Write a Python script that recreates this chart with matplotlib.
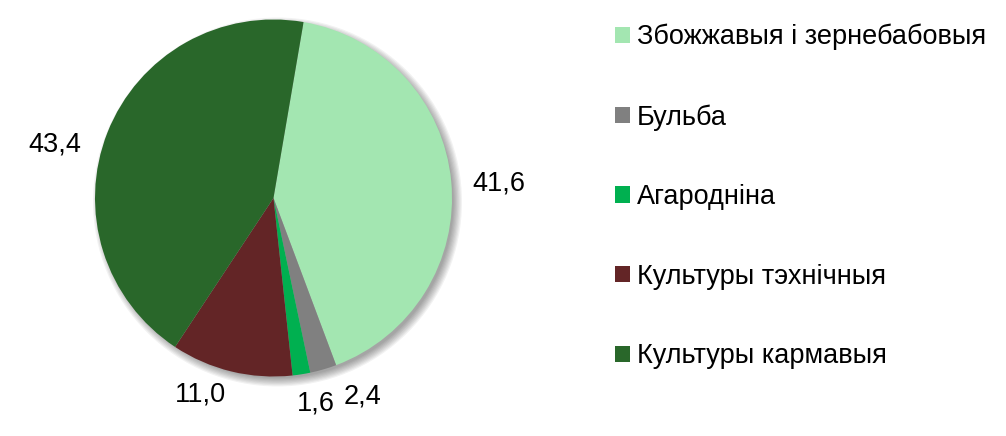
import matplotlib
matplotlib.use("Agg")
import matplotlib.pyplot as plt
from matplotlib.patches import Circle

plt.rcParams["font.family"] = ["Liberation Sans", "DejaVu Sans"]

categories = ["Збожжавыя і зернебабовыя", "Бульба", "Агароднiна",
              "Культуры тэхнічныя", "Культуры кармавыя"]
categories[2] = "Агароднiна".replace("i", "і")
shares = [41.6, 2.4, 1.6, 11.0, 43.4]
value_labels = ["41,6", "2,4", "1,6", "11,0", "43,4"]
colors = ["#a3e6b1", "#808080", "#00b050", "#632526", "#29672a"]

# label positions relative to pie centre, in radius units
label_pos = [(1.26, 0.08), (0.50, -1.11), (0.24, -1.15), (-0.41, -1.10), (-1.225, 0.30)]

W, H = 1006, 436
fig = plt.figure(figsize=(W / 100, H / 100), dpi=100)
cx, cy, r = 273.5, 198, 178.5
ax = fig.add_axes([(cx - r) / W, (H - cy - r) / H, 2 * r / W, 2 * r / H])

# soft shadow behind the pie
off = 4 / r
for i in range(8):
    ax.add_patch(Circle((off, -off), 1 + (i - 2) * 1.2 / r, color="#000000",
                        alpha=0.05, lw=0, zorder=0, clip_on=False))

wedges, _ = ax.pie(shares, colors=colors, startangle=80.3, counterclock=False,
                   radius=1, wedgeprops=dict(linewidth=0))
for w in wedges:
    w.set_zorder(2)

ax.set_xlim(-1, 1)
ax.set_ylim(-1, 1)
ax.set_aspect("equal")
ax.axis("off")

for txt, (x, y) in zip(value_labels, label_pos):
    ax.text(x, y, txt, ha="center", va="center", fontsize=19.5, color="black")

fig.legend(wedges, categories, loc="upper left", bbox_to_anchor=(615 / W, 1 - 24 / H),
           frameon=False, fontsize=19.5, handlelength=0.55, handleheight=0.55,
           handletextpad=0.25, labelspacing=1.98, borderpad=0, borderaxespad=0)

fig.savefig("out.png", dpi=100)
